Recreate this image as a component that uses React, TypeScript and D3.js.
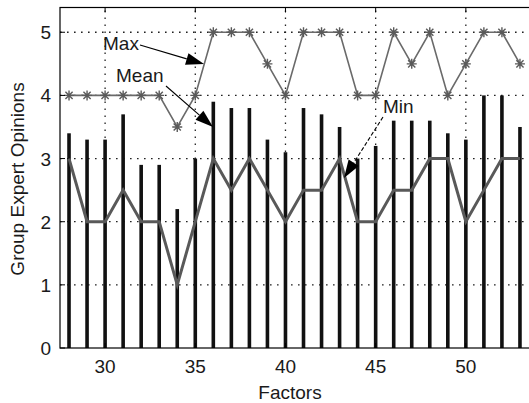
import React from "react";
import * as d3 from "d3";

// factor index on the x axis
const factors = d3.range(28, 54);
// bar heights (black bars)
const barValues = [3.4, 3.3, 3.3, 3.7, 2.9, 2.9, 2.2, 3.0, 3.9, 3.8, 3.8, 3.3, 3.1, 3.8, 3.7, 3.5, 3.0, 3.2, 3.6, 3.6, 3.6, 3.4, 3.3, 4.0, 4.0, 3.5];
// line with star markers
const maxValues = [4, 4, 4, 4, 4, 4, 3.5, 4, 5, 5, 5, 4.5, 4, 5, 5, 5, 4, 4, 5, 4.5, 5, 4, 4.5, 5, 5, 4.5];
// thick dark gray line
const meanValues = [3, 2, 2, 2.5, 2, 2, 1, 2, 3, 2.5, 3, 2.5, 2, 2.5, 2.5, 3, 2, 2, 2.5, 2.5, 3, 3, 2, 2.5, 3, 3];
const xTicks = [30, 35, 40, 45, 50];
const yTicks = [0, 1, 2, 3, 4, 5];

const W = 529;
const H = 403;
const font = "'Liberation Sans', Arial, sans-serif";

function Arrow({ x1, y1, x2, y2, dashed }: { x1: number; y1: number; x2: number; y2: number; dashed?: boolean }) {
  const a = Math.atan2(y2 - y1, x2 - x1);
  const len = 18;
  const half = 6;
  const bx = x2 - len * Math.cos(a);
  const by = y2 - len * Math.sin(a);
  const px = -Math.sin(a) * half;
  const py = Math.cos(a) * half;
  return (
    <g>
      <line x1={x1} y1={y1} x2={bx} y2={by} stroke="#000" strokeWidth={1.1} strokeDasharray={dashed ? "4,2" : undefined} />
      <polygon points={`${x2},${y2} ${bx + px},${by + py} ${bx - px},${by - py}`} fill="#000" />
    </g>
  );
}

export default function App() {
  const x = d3.scaleLinear().domain([27.5, 54]).range([60, 538]);
  const y = d3.scaleLinear().domain([0, 5.4]).range([348, 7]);
  const x0 = 60, x1 = 538, y0 = 348, y1 = 7.5;

  const lineGen = d3
    .line<number>()
    .x((_, i) => x(factors[i]))
    .y((d) => y(d));

  const barW = 3.6;
  const star = "M-5,0H5M0,-5V5M-3.6,-3.6L3.6,3.6M-3.6,3.6L3.6,-3.6";

  return (
    <svg width={W} height={H} style={{ position: "absolute", left: 0, top: 0, background: "#fff" }} fontFamily={font}>
      <rect x={0} y={0} width={W} height={H} fill="#fff" />
      {/* grid */}
      <g stroke="#222" strokeWidth={1.3} strokeDasharray="1.6,5.4">
        {xTicks.map((t) => (
          <line key={"gx" + t} x1={x(t)} x2={x(t)} y1={y0} y2={y1} />
        ))}
        {yTicks.filter((t) => t > 0).map((t) => (
          <line key={"gy" + t} x1={x0} x2={x1} y1={y(t)} y2={y(t)} />
        ))}
      </g>
      {/* bars */}
      <g fill="#111">
        {barValues.map((v, i) => (
          <rect key={i} x={x(factors[i]) - barW / 2} y={y(v)} width={barW} height={y(0) - y(v)} />
        ))}
      </g>
      {/* mean line */}
      <path d={lineGen(meanValues) ?? ""} fill="none" stroke="#595959" strokeWidth={3} strokeLinejoin="miter" />
      {/* max line */}
      <path d={lineGen(maxValues) ?? ""} fill="none" stroke="#6a6a6a" strokeWidth={1.6} />
      <g stroke="#5a5a5a" strokeWidth={1.4}>
        {maxValues.map((v, i) => (
          <path key={i} d={star} transform={`translate(${x(factors[i])},${y(v)})`} />
        ))}
      </g>
      {/* frame */}
      <rect x={x0} y={y1} width={x1 - x0} height={y0 - y1} fill="none" stroke="#000" strokeWidth={1.2} />
      <g stroke="#000" strokeWidth={1}>
        {xTicks.map((t) => (
          <g key={"tx" + t}>
            <line x1={x(t)} x2={x(t)} y1={y0} y2={y0 - 5} />
            <line x1={x(t)} x2={x(t)} y1={y1} y2={y1 + 5} />
          </g>
        ))}
        {yTicks.map((t) => (
          <line key={"ty" + t} x1={x0} x2={x0 + 5} y1={y(t)} y2={y(t)} />
        ))}
      </g>
      {/* tick labels */}
      <g fontSize={19} fill="#1a1a1a">
        {xTicks.map((t) => (
          <text key={"lx" + t} x={x(t)} y={373} textAnchor="middle">
            {t}
          </text>
        ))}
        {yTicks.map((t) => (
          <text key={"ly" + t} x={51} y={y(t) + 7} textAnchor="end">
            {t}
          </text>
        ))}
      </g>
      <text x={290} y={399} textAnchor="middle" fontSize={19} fill="#1a1a1a">
        Factors
      </text>
      <text transform="translate(24,179) rotate(-90)" textAnchor="middle" fontSize={19} fill="#1a1a1a">
        Group Expert Opinions
      </text>
      {/* annotations */}
      <g fontSize={19} fill="#1a1a1a">
        <text x={103} y={50}>Max</text>
        <text x={116} y={82}>Mean</text>
        <text x={383} y={113}>Min</text>
      </g>
      <Arrow x1={140} y1={45} x2={204} y2={64} />
      <Arrow x1={166} y1={86} x2={213} y2={127} />
      <Arrow x1={383} y1={117} x2={344} y2={178} dashed />
    </svg>
  );
}
